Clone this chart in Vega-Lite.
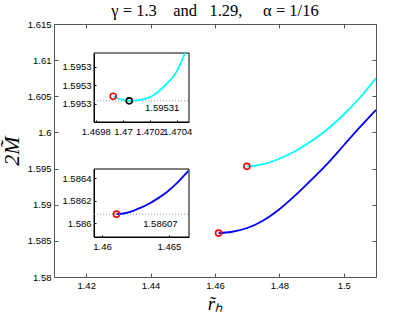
{
  "$schema": "https://vega.github.io/schema/vega-lite/v6.json",
  "width": 322,
  "height": 253,
  "autosize": {"type": "none"},
  "padding": {"left": 54, "top": 24, "right": 39, "bottom": 36},
  "background": "white",
  "config": {
    "view": {"stroke": null},
    "axis": {
      "grid": false,
      "domainColor": "#555555",
      "tickColor": "#555555",
      "domainWidth": 1,
      "tickWidth": 1,
      "labelFont": "Liberation Sans",
      "labelFontSize": 9.5,
      "labelColor": "black",
      "labelFlush": false,
      "labelOverlap": false
    }
  },
  "title": {
    "text": "γ = 1.3\u00a0\u00a0\u00a0\u00a0and\u00a0\u00a0\u00a01.29,\u00a0\u00a0\u00a0\u00a0\u00a0α = 1/16",
    "font": "Liberation Serif",
    "fontSize": 16.5,
    "fontWeight": "normal",
    "color": "black",
    "anchor": "middle",
    "frame": "group",
    "baseline": "alphabetic",
    "offset": -13
  },
  "datasets": {
    "curves": [
      {"series": "gamma 1.3", "r": 1.4699, "M": 1.59531},
      {"series": "gamma 1.3", "r": 1.4720, "M": 1.59536},
      {"series": "gamma 1.3", "r": 1.4750, "M": 1.59560},
      {"series": "gamma 1.3", "r": 1.4800, "M": 1.59636},
      {"series": "gamma 1.3", "r": 1.4850, "M": 1.59743},
      {"series": "gamma 1.3", "r": 1.4900, "M": 1.59880},
      {"series": "gamma 1.3", "r": 1.4950, "M": 1.60047},
      {"series": "gamma 1.3", "r": 1.5000, "M": 1.60248},
      {"series": "gamma 1.3", "r": 1.5050, "M": 1.60480},
      {"series": "gamma 1.3", "r": 1.5100, "M": 1.60752},
      {"series": "gamma 1.29", "r": 1.4611, "M": 1.58607},
      {"series": "gamma 1.29", "r": 1.4650, "M": 1.586226},
      {"series": "gamma 1.29", "r": 1.4700, "M": 1.586776},
      {"series": "gamma 1.29", "r": 1.4750, "M": 1.587826},
      {"series": "gamma 1.29", "r": 1.4800, "M": 1.589376},
      {"series": "gamma 1.29", "r": 1.4850, "M": 1.591326},
      {"series": "gamma 1.29", "r": 1.4900, "M": 1.593476},
      {"series": "gamma 1.29", "r": 1.4950, "M": 1.595726},
      {"series": "gamma 1.29", "r": 1.5000, "M": 1.598226},
      {"series": "gamma 1.29", "r": 1.5050, "M": 1.600726},
      {"series": "gamma 1.29", "r": 1.5100, "M": 1.603126}
    ],
    "ends": [
      {"series": "gamma 1.3", "r": 1.4699, "M": 1.59531},
      {"series": "gamma 1.29", "r": 1.4611, "M": 1.58607}
    ],
    "zoom13": [
      {"r": 1.469928, "M": 1.5953088},
      {"r": 1.469977, "M": 1.5953085},
      {"r": 1.470046, "M": 1.5953083},
      {"r": 1.470125, "M": 1.5953084},
      {"r": 1.470199, "M": 1.5953087},
      {"r": 1.470297, "M": 1.5953098},
      {"r": 1.470396, "M": 1.5953115},
      {"r": 1.470457, "M": 1.5953135}
    ],
    "zoom13marks": [
      {"kind": "start", "r": 1.469928, "M": 1.5953088},
      {"kind": "minimum", "r": 1.470046, "M": 1.5953083}
    ],
    "zoom13min": [
      {"r": 1.470046, "M": 1.5953083}
    ],
    "zoom13label": [
      {"r": 1.470162, "M": 1.5953075, "label": "1.59531"}
    ],
    "zoom129": [
      {"r": 1.46108, "M": 1.58608},
      {"r": 1.46170, "M": 1.586088},
      {"r": 1.46233, "M": 1.586110},
      {"r": 1.46295, "M": 1.586140},
      {"r": 1.46358, "M": 1.586178},
      {"r": 1.46420, "M": 1.586223},
      {"r": 1.46483, "M": 1.586276},
      {"r": 1.46565, "M": 1.586364},
      {"r": 1.46645, "M": 1.586466}
    ],
    "zoom129start": [
      {"r": 1.46108, "M": 1.58608}
    ],
    "zoom129label": [
      {"r": 1.463075, "M": 1.585994, "label": "1.58607"}
    ]
  },
  "resolve": {"scale": {"x": "independent", "y": "independent"}},
  "layer": [
    {
      "data": {"name": "ends"},
      "mark": {"type": "point", "opacity": 0},
      "encoding": {
        "x": {"field": "r", "type": "quantitative",
              "scale": {"domain": [1.41, 1.51], "nice": false, "zero": false},
              "axis": {"orient": "top", "labels": false, "title": null, "tickSize": -4,
                       "values": [1.42, 1.44, 1.46, 1.48, 1.5]}},
        "y": {"field": "M", "type": "quantitative",
              "scale": {"domain": [1.58, 1.615], "nice": false, "zero": false},
              "axis": {"orient": "right", "labels": false, "title": null, "tickSize": -4,
                       "values": [1.58, 1.585, 1.59, 1.595, 1.6, 1.605, 1.61, 1.615]}}
      }
    },
    {
      "encoding": {
        "x": {"field": "r", "type": "quantitative",
              "scale": {"domain": [1.41, 1.51], "nice": false, "zero": false},
              "axis": {"orient": "bottom", "tickSize": -4, "labelPadding": 7,
                       "values": [1.42, 1.44, 1.46, 1.48, 1.5], "format": ".4~g",
                       "title": "r̃ₕ", "titleFont": "Liberation Serif", "titleFontStyle": "italic",
                       "titleFontSize": 19, "titleFontWeight": "normal", "titleColor": "black",
                       "titlePadding": 5}},
        "y": {"field": "M", "type": "quantitative",
              "scale": {"domain": [1.58, 1.615], "nice": false, "zero": false},
              "axis": {"orient": "left", "tickSize": -4, "labelPadding": 7,
                       "values": [1.58, 1.585, 1.59, 1.595, 1.6, 1.605, 1.61, 1.615], "format": ".4~g",
                       "title": "2M̃", "titleFont": "Liberation Serif", "titleFontStyle": "italic",
                       "titleFontSize": 22, "titleFontWeight": "normal", "titleColor": "black",
                       "titlePadding": 4}}
      },
      "layer": [
        {
          "data": {"name": "curves"},
          "mark": {"type": "line", "strokeWidth": 1.8, "interpolate": "monotone", "clip": true},
          "encoding": {
            "detail": {"field": "series"},
            "color": {"field": "series", "type": "nominal",
                      "scale": {"domain": ["gamma 1.3", "gamma 1.29"], "range": ["#00FFFF", "#0000FF"]},
                      "legend": null}
          }
        },
        {
          "data": {"name": "ends"},
          "mark": {"type": "point", "shape": "circle", "filled": false, "stroke": "#FF0000",
                   "strokeWidth": 1.6, "size": 36, "opacity": 1}
        }
      ]
    },
    {
      "encoding": {
        "x": {"field": "r", "type": "quantitative",
              "scale": {"domain": [1.469787, 1.470486], "range": [40, 135], "nice": false, "zero": false},
              "axis": {"orient": "bottom", "offset": -155, "tickSize": -2, "labelPadding": 6,
                       "values": [1.4698, 1.47, 1.4702, 1.4704], "format": ".5~g", "title": null,
                       "domainColor": "black", "tickColor": "black"}},
        "y": {"field": "M", "type": "quantitative",
              "scale": {"domain": [1.595306, 1.5953135], "range": [98, 29], "nice": false, "zero": false},
              "axis": {"orient": "left", "offset": -40, "tickSize": -2, "labelPadding": 5,
                       "values": [1.595308, 1.59531, 1.595312], "format": ".4f", "title": null,
                       "domainColor": "black", "tickColor": "black"}}
      },
      "layer": [
        {
          "data": {"name": "zoom13min"},
          "mark": {"type": "rect", "filled": false, "stroke": "black", "strokeWidth": 1},
          "encoding": {
            "x": {"datum": 1.469787, "type": "quantitative"},
            "x2": {"datum": 1.470486},
            "y": {"datum": 1.595306, "type": "quantitative"},
            "y2": {"datum": 1.5953135}
          }
        },
        {
          "data": {"name": "zoom13min"},
          "mark": {"type": "rule", "stroke": "#999999", "strokeDash": [1, 2], "strokeWidth": 1},
          "encoding": {
            "x": {"datum": 1.469787, "type": "quantitative"},
            "x2": {"datum": 1.470486}
          }
        },
        {
          "data": {"name": "zoom13"},
          "mark": {"type": "line", "stroke": "#00FFFF", "strokeWidth": 1.8, "interpolate": "monotone", "clip": true}
        },
        {
          "data": {"name": "zoom13marks"},
          "mark": {"type": "point", "shape": "circle", "filled": false,
                   "strokeWidth": 1.6, "size": 36, "opacity": 1},
          "encoding": {
            "stroke": {"field": "kind", "type": "nominal",
                       "scale": {"domain": ["start", "minimum"], "range": ["#FF0000", "#000000"]},
                       "legend": null}
          }
        },
        {
          "data": {"name": "zoom13label"},
          "mark": {"type": "text", "align": "left", "baseline": "middle", "font": "Liberation Sans",
                   "fontSize": 9.5, "color": "black"},
          "encoding": {
            "text": {"field": "label", "type": "nominal"}
          }
        }
      ]
    },
    {
      "encoding": {
        "x": {"field": "r", "type": "quantitative",
              "scale": {"domain": [1.4594, 1.4665], "range": [40, 135], "nice": false, "zero": false},
              "axis": {"orient": "bottom", "offset": -40, "tickSize": -2, "labelPadding": 6,
                       "values": [1.46, 1.465], "format": ".4~g", "title": null,
                       "domainColor": "black", "tickColor": "black"}},
        "y": {"field": "M", "type": "quantitative",
              "scale": {"domain": [1.585876, 1.586483], "range": [213, 145], "nice": false, "zero": false},
              "axis": {"orient": "left", "offset": -40, "tickSize": -2, "labelPadding": 5,
                       "values": [1.586, 1.5862, 1.5864], "format": ".5~g", "title": null,
                       "domainColor": "black", "tickColor": "black"}}
      },
      "layer": [
        {
          "data": {"name": "zoom129start"},
          "mark": {"type": "rect", "filled": false, "stroke": "black", "strokeWidth": 1},
          "encoding": {
            "x": {"datum": 1.4594, "type": "quantitative"},
            "x2": {"datum": 1.4665},
            "y": {"datum": 1.585876, "type": "quantitative"},
            "y2": {"datum": 1.586483}
          }
        },
        {
          "data": {"name": "zoom129start"},
          "mark": {"type": "rule", "stroke": "#999999", "strokeDash": [1, 2], "strokeWidth": 1},
          "encoding": {
            "x": {"datum": 1.4594, "type": "quantitative"},
            "x2": {"datum": 1.4665}
          }
        },
        {
          "data": {"name": "zoom129"},
          "mark": {"type": "line", "stroke": "#0000FF", "strokeWidth": 1.8, "interpolate": "monotone", "clip": true}
        },
        {
          "data": {"name": "zoom129start"},
          "mark": {"type": "point", "shape": "circle", "filled": false, "stroke": "#FF0000",
                   "strokeWidth": 1.6, "size": 36, "opacity": 1}
        },
        {
          "data": {"name": "zoom129label"},
          "mark": {"type": "text", "align": "left", "baseline": "middle", "font": "Liberation Sans",
                   "fontSize": 9.5, "color": "black"},
          "encoding": {
            "text": {"field": "label", "type": "nominal"}
          }
        }
      ]
    }
  ]
}
